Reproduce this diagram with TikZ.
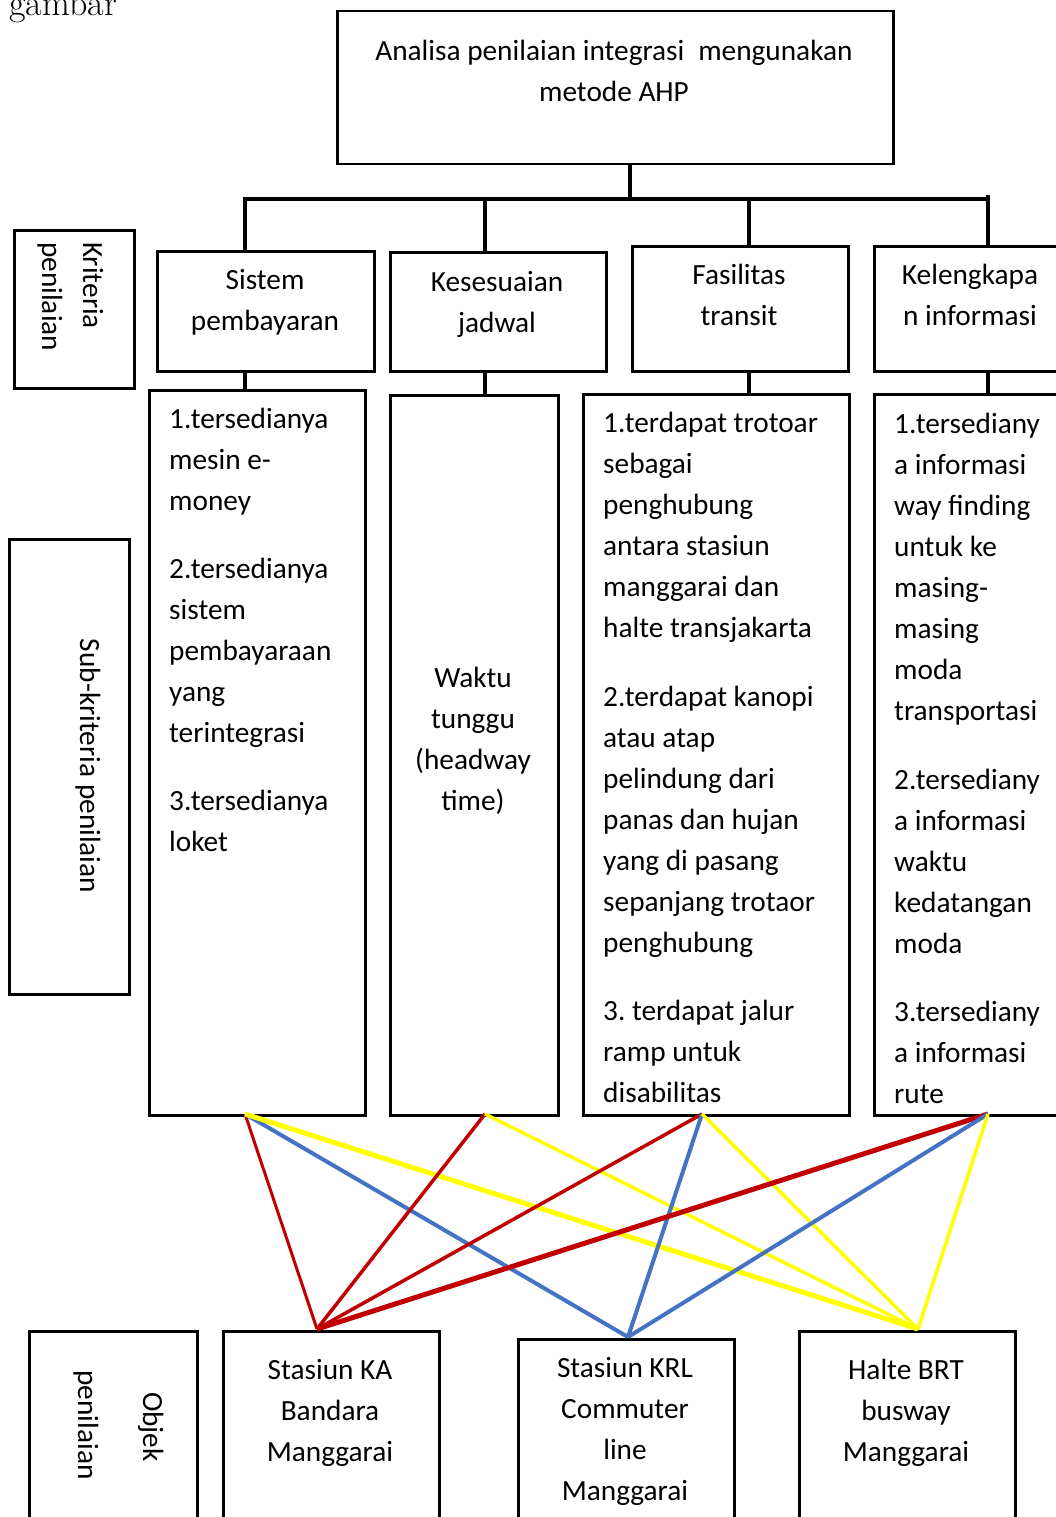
\documentclass[tikz,border=0pt]{standalone}
\usepackage{fontspec}
\setmainfont{Carlito}
\newfontfamily\gbfont{Latin Modern Roman}
\frenchspacing
\definecolor{cred}{HTML}{C00000}
\definecolor{cblue}{HTML}{4472C4}
\definecolor{cyel}{HTML}{FFFF00}
\tikzset{
  bx/.style={draw, line width=2.5pt, inner sep=0pt, anchor=north west},
  tx/.style={font=\fontsize{29.3}{41}\selectfont, inner sep=0pt},
  trunk/.style={line width=3.5pt},
  lred/.style={cred, line width=3.5pt},
  lblue/.style={cblue, line width=4pt},
  lyel/.style={cyel, line width=3.5pt},
}
\newcommand\bxnode[5]{\node[bx, minimum width=#4, minimum height=#5] (#1) at (#2,#3) {};}
\begin{document}
\begin{tikzpicture}[x=1pt,y=-1pt]
\useasboundingbox (0,0) rectangle (1056,1517);
\clip (0,0) rectangle (1056,1517);
% caption fragment
\node[font=\gbfont\fontsize{36}{42}\selectfont, anchor=base west, inner sep=0pt] (gb) at (9,16) {gambar};
% boxes
\bxnode{top}{336}{10}{556}{153}
\bxnode{sp}{156}{250}{217}{120}
\bxnode{kj}{389}{251}{216}{119}
\bxnode{ft}{631}{245}{216}{125}
\bxnode{ki}{873}{245}{216}{125}
\bxnode{kr}{13}{229}{120}{158}
\bxnode{sa}{148}{389}{216}{725}
\bxnode{sb}{389}{394}{168}{720}
\bxnode{sc}{582}{393}{266}{721}
\bxnode{sd}{873}{393}{216}{721}
\bxnode{sk}{8}{538}{120}{455}
\bxnode{ob}{28}{1330}{168}{240}
\bxnode{ka}{222}{1330}{216}{240}
\bxnode{krl}{517}{1338}{216}{240}
\bxnode{brt}{798}{1330}{216}{240}
% texts
\node[tx, align=center, anchor=north] (ttop) at (614,31.3) {\strut Analisa penilaian integrasi\hspace{0.25em} mengunakan\\metode AHP};
\node[tx, align=center, anchor=north] (tsp) at (265,260.3) {\strut Sistem\\pembayaran};
\node[tx, align=center, anchor=north] (tkj) at (497,262.3) {\strut Kesesuaian\\jadwal};
\node[tx, align=center, anchor=north] (tft) at (739,255.3) {\strut Fasilitas\\transit};
\node[tx, align=center, anchor=north] (tki) at (970,255.3) {\strut Kelengkapa\\n informasi};
\node[tx, align=left, anchor=north west] (tsa) at (169,399.3) {\strut 1.tersedianya\\mesin e-\\money\\[27pt]2.tersedianya\\sistem\\pembayaraan\\yang\\terintegrasi\\[27pt]3.tersedianya\\loket};
\node[tx, align=center, anchor=north] (tsb) at (473,658.3) {\strut Waktu\\tunggu\\(headway\\time)};
\node[tx, align=left, anchor=north west] (tsc) at (603,403.3) {\strut 1.terdapat trotoar\\sebagai\\penghubung\\antara stasiun\\manggarai dan\\halte transjakarta\\[28pt]2.terdapat kanopi\\atau atap\\pelindung dari\\panas dan hujan\\yang di pasang\\sepanjang trotaor\\penghubung\\[27pt]3. terdapat jalur\\ramp untuk\\disabilitas};
\node[tx, align=left, anchor=north west] (tsd) at (894,404.3) {\strut 1.tersediany\\a informasi\\way finding\\untuk ke\\masing-\\masing\\moda\\transportasi\\[28pt]2.tersediany\\a informasi\\waktu\\kedatangan\\moda\\[27pt]3.tersediany\\a informasi\\rute};
\node[tx, align=center, anchor=north] (tka) at (330,1350.3) {\strut Stasiun KA\\Bandara\\Manggarai};
\node[tx, align=center, anchor=north] (tkrl) at (625,1348.3) {\strut Stasiun KRL\\Commuter\\line\\Manggarai};
\node[tx, align=center, anchor=north] (tbrt) at (906,1350.3) {\strut Halte BRT\\busway\\Manggarai};
% rotated labels
\node[tx, rotate=-90, anchor=base west] (kr1) at (83,242) {Kriteria};
\node[tx, rotate=-90, anchor=base west] (kr2) at (42,242) {penilaian};
\node[tx, rotate=-90, anchor=base] (sk1) at (80,766) {Sub-kriteria penilaian};
\node[tx, rotate=-90, anchor=base] (ob1) at (143,1427) {Objek};
\node[tx, rotate=-90, anchor=base] (ob2) at (78,1425) {penilaian};
% tree connectors
\coordinate (jT) at (630,199);
\coordinate (jL) at (245,199);
\coordinate (jK) at (485,199);
\coordinate (jF) at (749,199);
\coordinate (jR) at (988,199);
\draw[trunk] (top.south -| jT) -- (jT);
\draw[trunk] ([xshift=-1.75pt]jL) -- (jR);
\draw[trunk] (jL) -- (jL |- sp.north);
\draw[trunk] (jK) -- (jK |- kj.north);
\draw[trunk] (jF) -- (jF |- ft.north);
\draw[trunk] ([yshift=4pt]jR) -- (jR |- ki.north);
\draw[trunk] (jL |- sp.south) -- (jL |- sa.north);
\draw[trunk] (jK |- kj.south) -- (jK |- sb.north);
\draw[trunk] (jF |- ft.south) -- (jF |- sc.north);
\draw[trunk] (jR |- ki.south) -- (jR |- sd.north);
% coloured links
\coordinate (pA) at (245,1114);
\coordinate (pB) at (485,1114);
\coordinate (pC) at (702,1114);
\coordinate (pD) at (988,1114);
\coordinate (qKA) at (317,1329);
\coordinate (qKRL) at (628,1337);
\coordinate (qBRT) at (918,1329);
\draw[lred, line width=3pt] (pA) -- (qKA);
\draw[lblue] (pA) -- (qKRL);
\draw[lyel, line width=5pt] (pA) -- (qBRT);
\draw[lred] (pB) -- (qKA);
\draw[lyel] (pB) -- (qBRT);
\draw[lred] (pC) -- (qKA);
\draw[lblue] (pC) -- (qKRL);
\draw[lyel] (pC) -- (qBRT);
\draw[lred, line width=5pt] (pD) -- (qKA);
\draw[lblue] (pD) -- (qKRL);
\draw[lyel] (pD) -- (qBRT);
\end{tikzpicture}
\end{document}
